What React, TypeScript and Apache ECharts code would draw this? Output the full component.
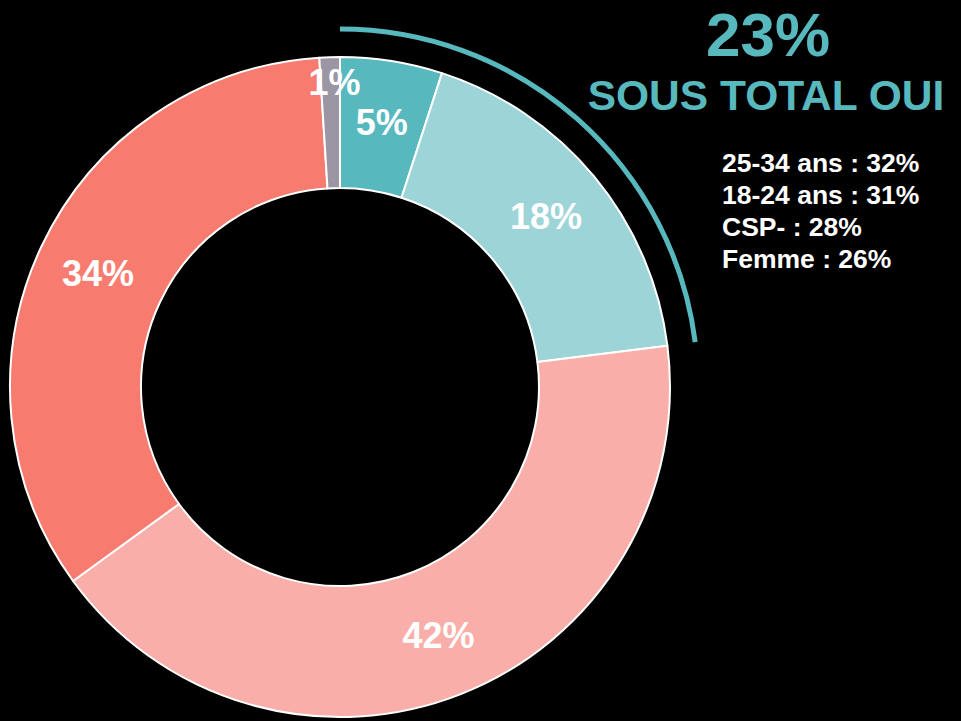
import React, { useEffect, useRef } from "react";
import * as echarts from "echarts";

const categories = ["Oui, tout à fait", "Oui, plutôt", "Non, plutôt pas", "Non, pas du tout", "Ne se prononce pas"];
const values = [5, 18, 42, 34, 1];
const colors = ["#57B8BE", "#9DD4D8", "#F9AEA9", "#F87B70", "#9C96A4"];
const subtotalValue = 23;
const subtotalLabel = "SOUS TOTAL OUI";
const detailLines = ["25-34 ans : 32%", "18-24 ans : 31%", "CSP- : 28%", "Femme : 26%"];

const FONT = "Arial, 'Liberation Sans', sans-serif";

export default function App() {
  const ref = useRef<HTMLDivElement>(null);
  useEffect(() => {
    document.body.style.margin = "0";
    document.body.style.background = "#000";
    if (!ref.current) return;
    const chart = echarts.init(ref.current, null, { renderer: "svg" });
    const cx = 340;
    const cy = 387;
    const ouiShare = (values[0] + values[1]) / values.reduce((a, b) => a + b, 0);
    const option: any = {
      animation: false,
      backgroundColor: "#000",
      series: [
        {
          type: "pie",
          center: [cx, cy],
          radius: [199, 330],
          startAngle: 90,
          clockwise: true,
          data: categories.map((name, i) => ({
            name,
            value: values[i],
            itemStyle: { color: colors[i] },
          })),
          itemStyle: { borderColor: "#fff", borderWidth: 2 },
          label: {
            show: true,
            position: "inside",
            formatter: "{c}%",
            color: "#fff",
            fontSize: 36,
            fontWeight: "bold",
            fontFamily: FONT,
          },
          labelLine: { show: false },
          labelLayout: (params: any) =>
            params.dataIndex === 4 ? { dx: 3, dy: -37 } : {},
          emphasis: { disabled: true },
        },
      ],
      graphic: [
        {
          type: "arc",
          shape: {
            cx,
            cy,
            r: 358,
            startAngle: -Math.PI / 2,
            endAngle: -Math.PI / 2 + 2 * Math.PI * ouiShare,
          },
          style: { stroke: "#57B8BE", lineWidth: 5, fill: "none", lineCap: "butt" },
          silent: true,
        },
        {
          type: "text",
          x: 768,
          y: 34,
          style: {
            text: subtotalValue + "%",
            fill: "#57B8BE",
            font: `bold 62px ${FONT}`,
            lineHeight: 62,
            textAlign: "center",
            textVerticalAlign: "middle",
          },
        },
        {
          type: "text",
          x: 766,
          y: 95,
          style: {
            text: subtotalLabel,
            fill: "#57B8BE",
            font: `bold 42.5px ${FONT}`,
            textAlign: "center",
            textVerticalAlign: "middle",
          },
        },
        ...detailLines.map((t, i) => ({
          type: "text",
          x: 722,
          y: 163 + i * 32,
          style: {
            text: t,
            fill: "#fff",
            font: `bold 26.5px ${FONT}`,
            textAlign: "left",
            textVerticalAlign: "middle",
          },
        })),
      ],
    };
    chart.setOption(option);
    return () => chart.dispose();
  }, []);
  return <div ref={ref} style={{ width: 961, height: 721 }} />;
}
